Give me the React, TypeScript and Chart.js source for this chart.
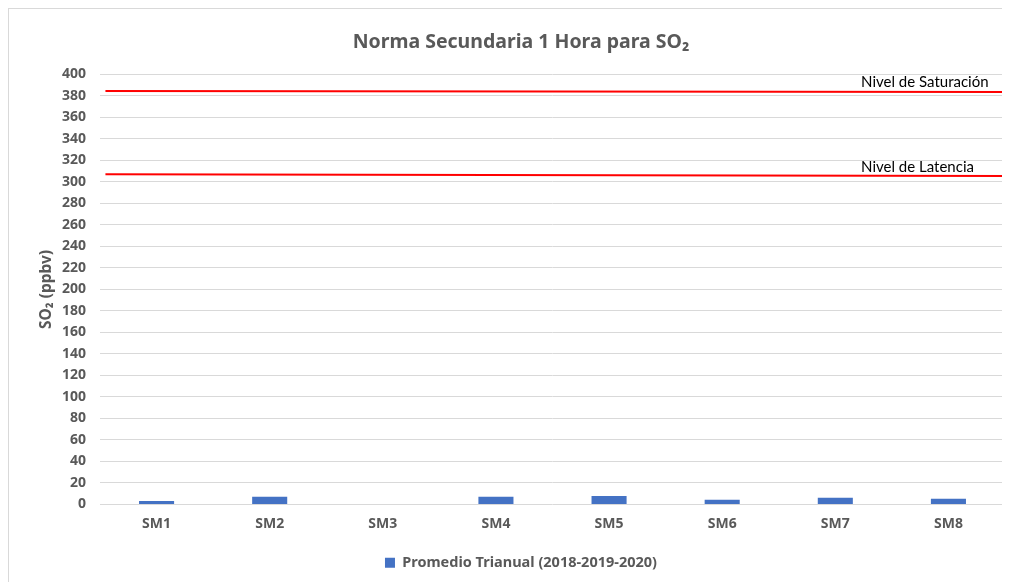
import React, { useEffect, useRef } from "react";
import { Chart, registerables } from "chart.js";

Chart.register(...registerables);

const categories = ["SM1", "SM2", "SM3", "SM4", "SM5", "SM6", "SM7", "SM8"];
const promedio = [3.2, 7.2, 0, 7.2, 8.0, 4.4, 6.2, 5.3];
const saturacion = [
  { x: 0.006, y: 384.5 },
  { x: 1, y: 383.6 },
];
const latencia = [
  { x: 0.006, y: 307.2 },
  { x: 1, y: 305.5 },
];
const lineLabels = [
  { text: "Nivel de Saturación", x: 0.841, y: 385.5 },
  { text: "Nivel de Latencia", x: 0.841, y: 306.5 },
];
const BOLD = "'Noto Sans', 'Open Sans', sans-serif";
const REG = "Lato, 'Noto Sans', sans-serif";
const GREY = "#595959";

const labelPlugin = {
  id: "lineLabels",
  afterDatasetsDraw(chart: any) {
    const { ctx } = chart;
    const xs = chart.scales.x2;
    const ys = chart.scales.y;
    ctx.save();
    ctx.font = `15px ${REG}`;
    ctx.fillStyle = "#000000";
    ctx.textAlign = "left";
    ctx.textBaseline = "bottom";
    for (const l of lineLabels) {
      ctx.fillText(l.text, xs.getPixelForValue(l.x), ys.getPixelForValue(l.y));
    }
    ctx.restore();
  },
};

export default function App() {
  const ref = useRef<HTMLCanvasElement>(null);
  useEffect(() => {
    if (!ref.current) return;
    const chart = new Chart(ref.current, {
      type: "bar",
      data: {
        labels: categories,
        datasets: [
          {
            type: "bar",
            label: "Promedio Trianual (2018-2019-2020)",
            data: promedio,
            backgroundColor: "#4472C4",
            borderWidth: 0,
            grouped: false,
            categoryPercentage: 1,
            barPercentage: 0.31,
            order: 2,
          } as any,
          {
            type: "line",
            label: "Saturación",
            data: saturacion,
            xAxisID: "x2",
            borderColor: "#ff0000",
            borderWidth: 2,
            pointRadius: 0,
            order: 1,
          } as any,
          {
            type: "line",
            label: "Latencia",
            data: latencia,
            xAxisID: "x2",
            borderColor: "#ff0000",
            borderWidth: 2,
            pointRadius: 0,
            order: 1,
          } as any,
        ],
      },
      options: {
        animation: false,
        responsive: true,
        maintainAspectRatio: false,
        layout: { padding: { top: 0, right: 6, bottom: 2, left: 28 } },
        plugins: {
          title: {
            display: true,
            text: "Norma Secundaria 1 Hora para SO₂",
            color: GREY,
            font: { family: BOLD, size: 19.5, weight: "bold" },
            padding: { top: 22, bottom: 20 },
          },
          legend: {
            position: "bottom",
            labels: {
              filter: (item: any) => item.datasetIndex === 0,
              boxWidth: 10,
              boxHeight: 10,
              color: GREY,
              font: { family: BOLD, size: 14.5, weight: "bold" },
              padding: 10,
            },
          },
          tooltip: { enabled: false },
        },
        scales: {
          x: {
            grid: { display: false },
            border: { display: false },
            afterFit: (s: any) => {
              s.height = 41;
            },
            ticks: {
              color: GREY,
              font: { family: BOLD, size: 14, weight: "bold" },
              padding: 3,
            },
          },
          x2: {
            type: "linear",
            display: false,
            offset: false,
            min: 0,
            max: 1,
          },
          y: {
            min: 0,
            max: 400,
            afterFit: (s: any) => {
              s.width = 63;
            },
            ticks: {
              stepSize: 20,
              color: GREY,
              font: { family: BOLD, size: 14, weight: "bold" },
              padding: 14,
            },
            grid: { color: "#d9d9d9", drawTicks: false },
            border: { display: false },
            title: {
              display: true,
              text: "SO₂ (ppbv)",
              color: GREY,
              font: { family: BOLD, size: 15.5, weight: "bold" },
              padding: { top: 0, bottom: 0 },
            },
          },
        },
      },
      plugins: [labelPlugin],
    } as any);
    return () => chart.destroy();
  }, []);
  return (
    <div
      style={{
        width: 1002,
        height: 573,
        borderTop: "1px solid #d9d9d9",
        borderLeft: "1px solid #d9d9d9",
        position: "relative",
        boxSizing: "content-box",
      }}
    >
      <canvas ref={ref} />
    </div>
  );
}
